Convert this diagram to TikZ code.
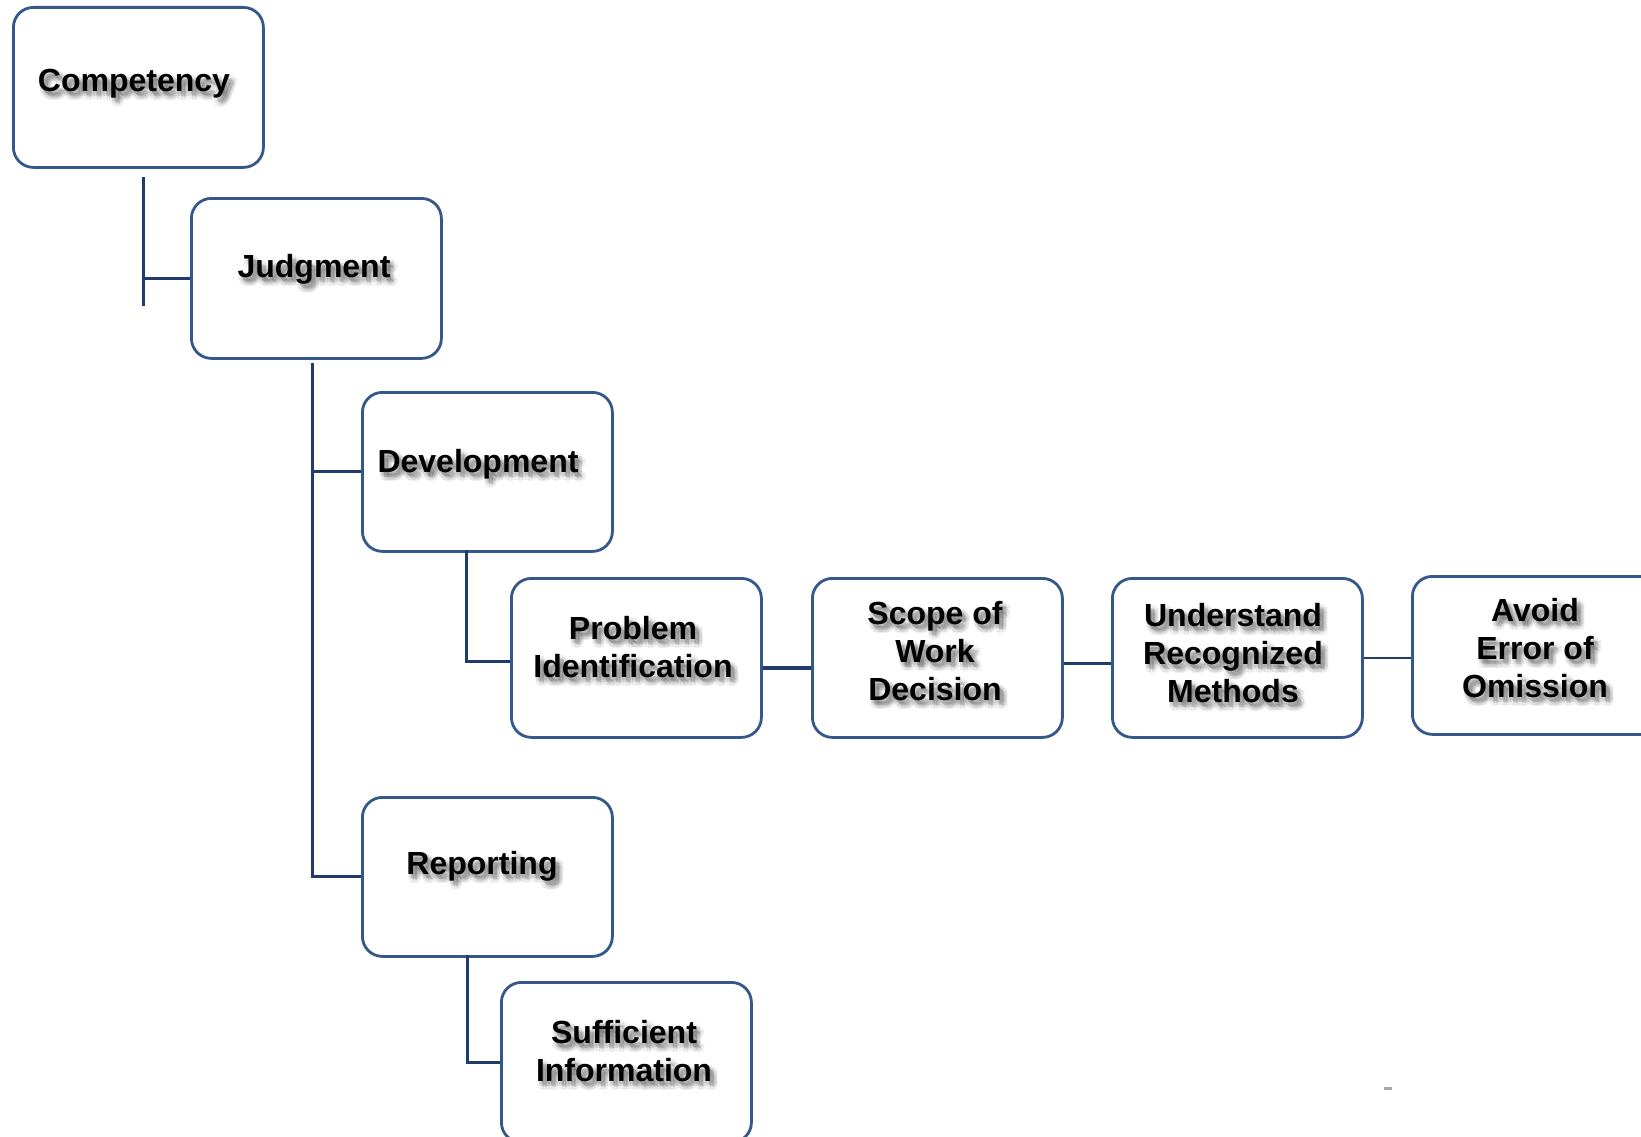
\documentclass[tikz,border=0pt]{standalone}
\usepackage{fontspec}
\setmainfont{Liberation Sans}
\usetikzlibrary{calc}
\definecolor{boxblue}{RGB}{52,88,138}
\definecolor{linkblue}{RGB}{32,60,108}
\tikzset{
  stepbox/.style={draw=boxblue, line width=2.8pt, rounded corners=20pt, fill=white,
    inner sep=0pt, minimum width=250pt, minimum height=159pt, anchor=north west},
  caption/.style={font=\bfseries\fontsize{32}{38}\selectfont, align=center, inner sep=0pt},
  link/.style={draw=linkblue, line width=3pt},
}
% bold caption with a soft grey drop shadow: name, position, text
\newcommand\shadowtext[3]{%
  \foreach \dx/\dy/\op [count=\k] in {1/3/0.06,7/3/0.06,1/8/0.06,7/8/0.06,4/1/0.06,4/9/0.06,0/5/0.06,8/5/0.06,3/4/0.09,5/6/0.09,4/5/0.1}{
    \node[caption, text=black, text opacity=\op, name=#1-s\k] at ($(#2)+(\dx,\dy)$) {#3};
  }
  \node[caption, name=#1] at (#2) {#3};
}
\begin{document}
\begin{tikzpicture}[x=1pt, y=-1pt]
  \useasboundingbox (0,0) rectangle (1641,1137);
  \clip (0,0) rectangle (1641,1137);
  \fill[white] (0,0) rectangle (1641,1137);

  % boxes
  \node[stepbox, minimum height=160pt] (comp)  at (12,6)    {};
  \node[stepbox, minimum height=160pt] (judg)  at (190,197) {};
  \node[stepbox] (dev)   at (361,391)  {};
  \node[stepbox] (pi)    at (510,577)  {};
  \node[stepbox] (scope) at (811,577)  {};
  \node[stepbox] (und)   at (1111,577) {};
  \node[stepbox, minimum height=158pt] (avoid) at (1411,575) {};
  \node[stepbox] (rep)   at (361,796)  {};
  \node[stepbox, minimum height=160pt] (suff)  at (500,981)  {};

  % captions
  \shadowtext{comp-t}{134,84}{Competency}
  \shadowtext{judg-t}{314,269}{Judgment}
  \shadowtext{dev-t}{478,464}{Development}
  \shadowtext{pi-t}{633,647}{Problem\\Identification}
  \shadowtext{scope-t}{935,651}{Scope of\\Work\\Decision}
  \shadowtext{und-t}{1233,653}{Understand\\Recognized\\Methods}
  \shadowtext{avoid-t}{1535,648}{Avoid\\Error of\\Omission}
  \shadowtext{rep-t}{482,866}{Reporting}
  \shadowtext{suff-t}{624,1051}{Sufficient\\Information}

  % connectors
  \coordinate (c-top) at (143,177);
  \coordinate (c-bot) at (143,306);
  \draw[link] (c-top) -- (c-bot);
  \draw[link] (c-top |- judg.west) -- (judg.west);

  \coordinate (j-top) at (312,363);
  \draw[link] (j-top) |- (rep.west);
  \draw[link] (j-top |- dev.west) -- (dev.west);

  \coordinate (d-drop) at (466,550);
  \draw[link] (d-drop) |- ([yshift=-3.5pt]pi.west);

  \coordinate (r-drop) at (467,955);
  \draw[link] (r-drop) |- (suff.west);

  \draw[link, line width=3.5pt] ([yshift=-10pt]pi.east) -- ([yshift=-10pt]pi.east -| scope.west);
  \draw[link] ([yshift=-6pt]scope.east) -- ([yshift=-6pt]scope.east -| und.west);
  \draw[link, line width=2pt] (und.east) -- (und.east -| avoid.west);

  % small stray mark near the lower right
  \fill[gray!70] (1384,1086.5) rectangle (1392,1089.5);
\end{tikzpicture}
\end{document}
